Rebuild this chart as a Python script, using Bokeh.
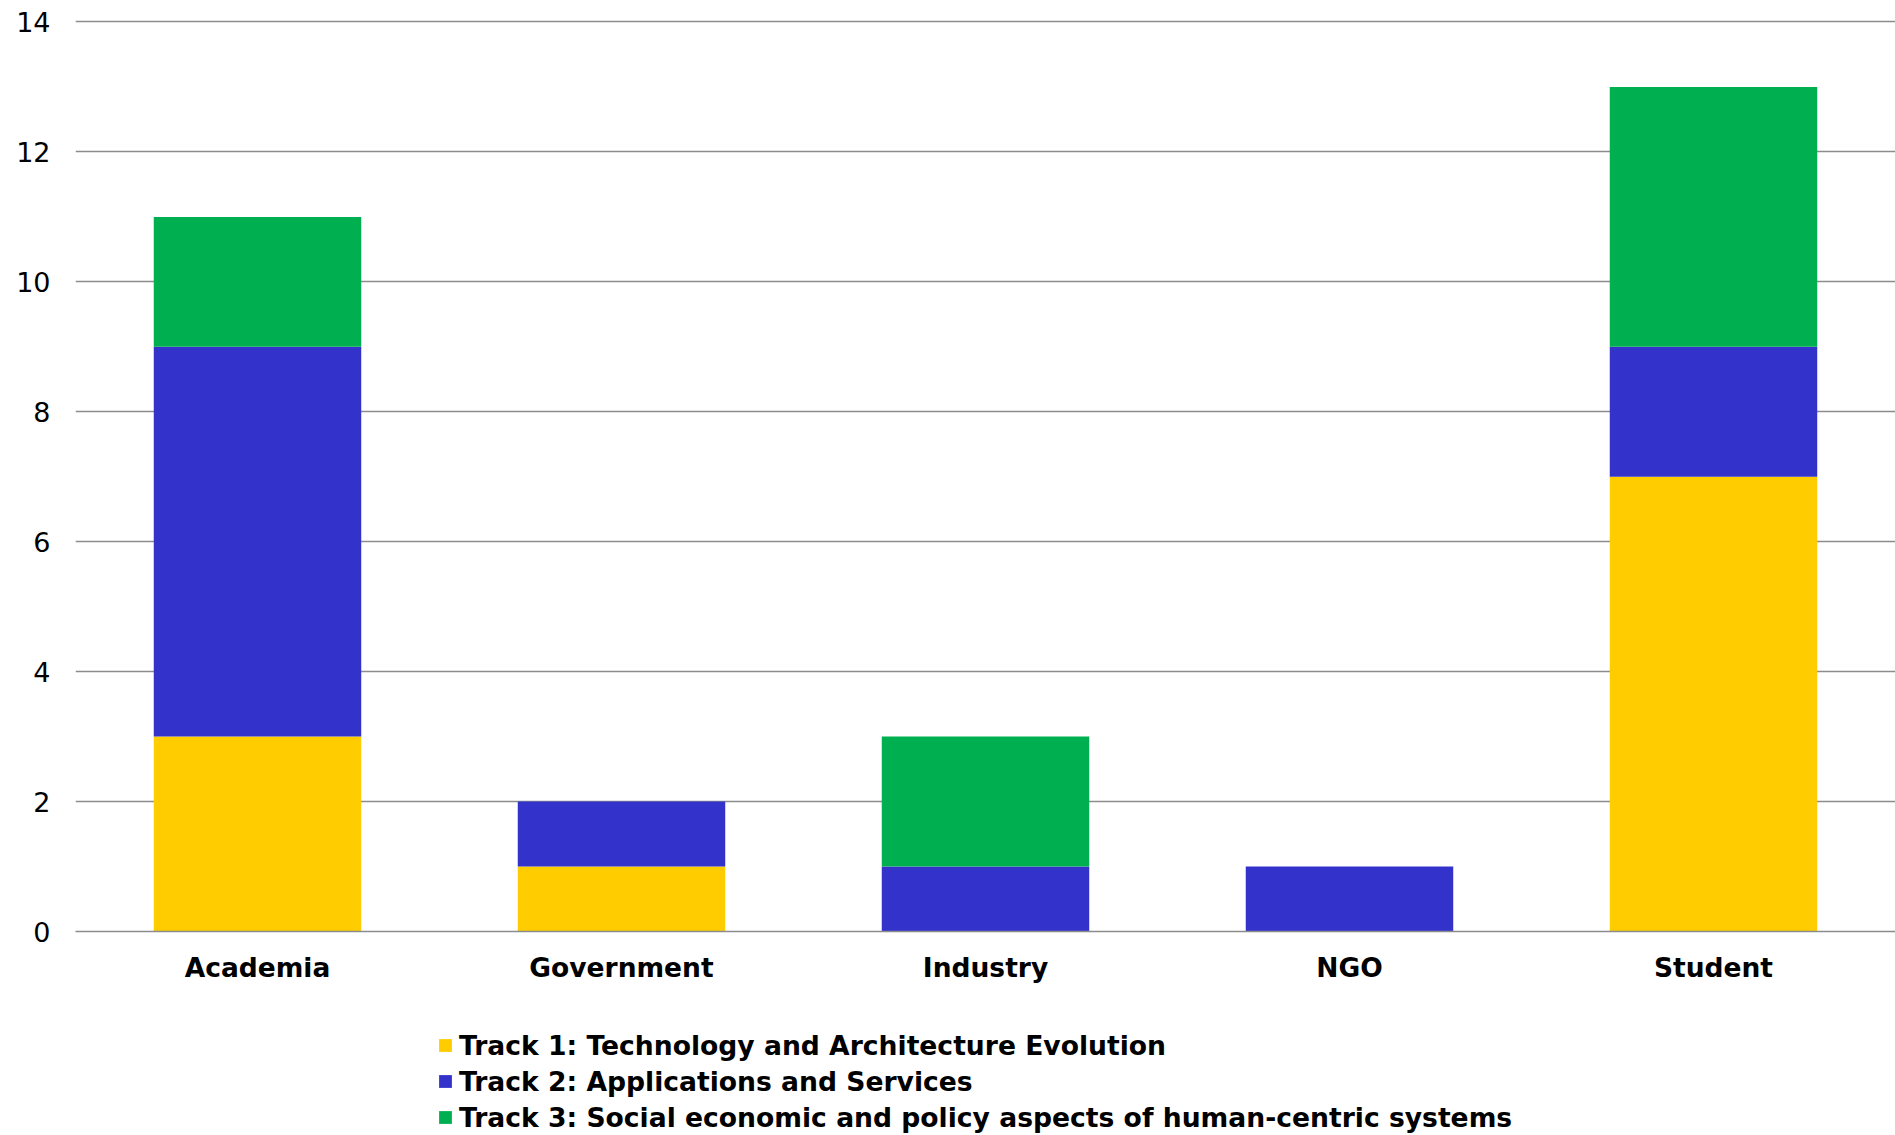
from bokeh.plotting import figure
from bokeh.layouts import column
from bokeh.models import Range1d, FactorRange, Legend, LegendItem, FixedTicker
from bokeh.embed import file_html
from bokeh.resources import INLINE

categories = ["Academia", "Government", "Industry", "NGO", "Student"]
track1 = [3, 1, 0, 0, 7]
track2 = [6, 1, 1, 1, 2]
track3 = [2, 0, 2, 0, 4]
series_names = ["track1", "track2", "track3"]
series_labels = [
    "Track 1: Technology and Architecture Evolution",
    "Track 2: Applications and Services",
    "Track 3: Social economic and policy aspects of human-centric systems",
]
colors = ["#FFCC00", "#3333CC", "#00B050"]
y_ticks = [0, 2, 4, 6, 8, 10, 12, 14]

FONT = "DejaVu Sans"

p = figure(
    width=1895, height=1010,
    x_range=FactorRange(*categories, range_padding=0),
    y_range=Range1d(0, 14.3),
    output_backend="svg", toolbar_location=None,
    min_border_left=75, min_border_right=0, min_border_top=2, min_border_bottom=79,
)
p.outline_line_color = None
p.background_fill_color = "white"
p.border_fill_color = "white"

data = {"cat": categories, "track1": track1, "track2": track2, "track3": track3}
renderers = p.vbar_stack(series_names, x="cat", width=0.57, source=data,
                         color=colors, line_color=None)

# axes
p.xgrid.grid_line_color = None
p.ygrid.grid_line_color = "#8c8c8c"
p.ygrid.grid_line_width = 1.3
p.ygrid.ticker = FixedTicker(ticks=y_ticks)

p.yaxis.ticker = FixedTicker(ticks=y_ticks)
p.yaxis.axis_line_color = None
p.yaxis.major_tick_line_color = None
p.yaxis.minor_tick_line_color = None
p.yaxis.major_label_text_font = FONT
p.yaxis.major_label_text_font_size = "27px"
p.yaxis.major_label_text_color = "black"
p.yaxis.major_label_standoff = 19

p.xaxis.axis_line_color = "#8c8c8c"
p.xaxis.axis_line_width = 1.3
p.xaxis.major_tick_line_color = None
p.xaxis.minor_tick_line_color = None
p.xaxis.major_label_text_font = FONT
p.xaxis.major_label_text_font_style = "bold"
p.xaxis.major_label_text_font_size = "26.5px"
p.xaxis.major_label_text_color = "black"
p.xaxis.major_label_standoff = 14

# legend figure below the chart (frames are aligned with the chart above)
lp = figure(
    width=1895, height=125, x_range=Range1d(0, 1), y_range=Range1d(0, 1),
    output_backend="svg", toolbar_location=None,
    x_axis_type=None, y_axis_type=None,
    min_border_left=75, min_border_right=0, min_border_top=0, min_border_bottom=0,
)
lp.outline_line_color = None
lp.xgrid.grid_line_color = None
lp.ygrid.grid_line_color = None
legend_renderers = [lp.vbar(x=[0], top=[0], bottom=[0], width=0, fill_color=c, line_color=None)
                    for c in colors]
items = [LegendItem(label=lab, renderers=[r]) for lab, r in zip(series_labels, legend_renderers)]
legend = Legend(
    items=items, orientation="vertical", location=(362, 0),
    label_text_font=FONT, label_text_font_style="bold", label_text_font_size="26.6px",
    label_text_color="black",
    glyph_width=16, glyph_height=16, label_standoff=6,
    spacing=0, label_height=36, padding=0, margin=0,
    background_fill_alpha=0, border_line_color=None,
)
lp.add_layout(legend, "center")

layout = column(p, lp, spacing=0)

with open("out.html", "w") as f:
    f.write(file_html(layout, INLINE))
